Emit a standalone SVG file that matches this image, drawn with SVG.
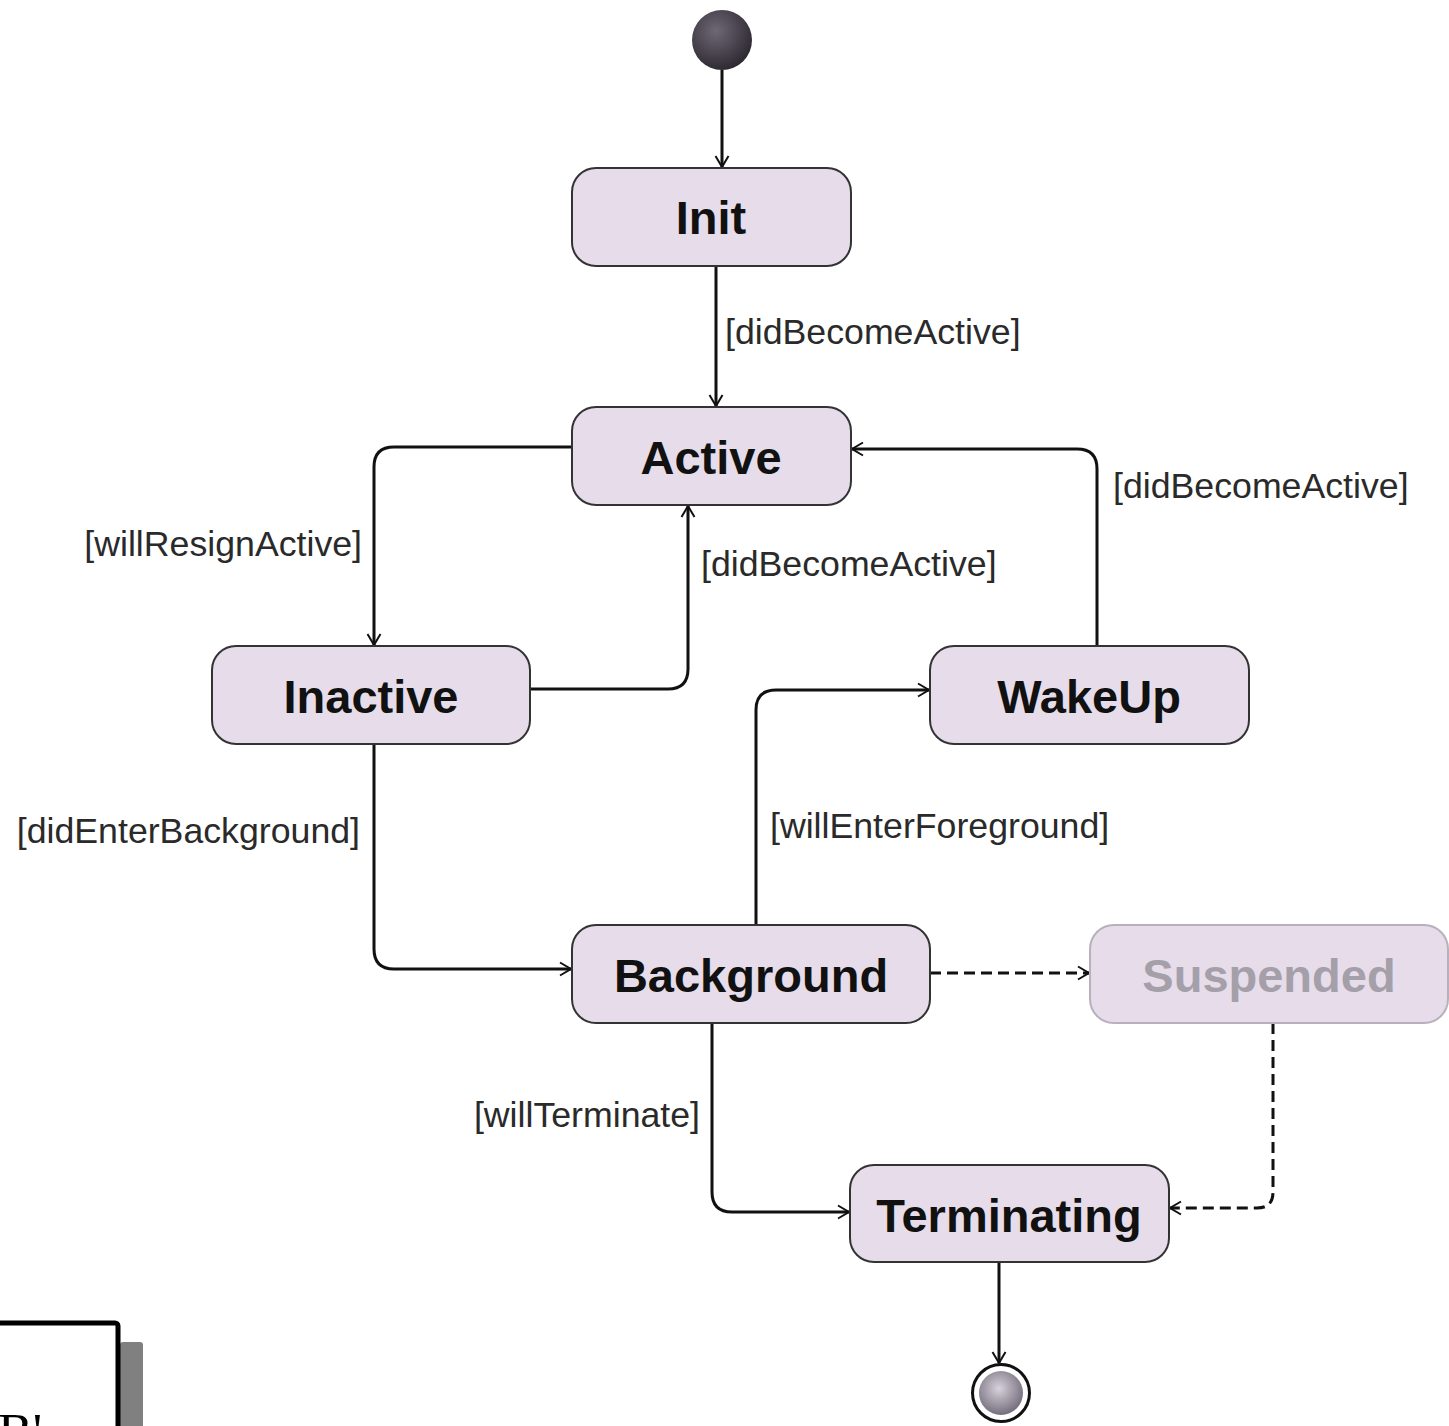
<svg xmlns="http://www.w3.org/2000/svg" width="1449" height="1426" viewBox="0 0 1449 1426">
<defs>
<radialGradient id="gInit" cx="0.4" cy="0.35" r="0.7">
<stop offset="0" stop-color="#6e6875"/>
<stop offset="1" stop-color="#2a262e"/>
</radialGradient>
<radialGradient id="gFinal" cx="0.45" cy="0.4" r="0.65">
<stop offset="0" stop-color="#d8d2dc"/>
<stop offset="1" stop-color="#6d6574"/>
</radialGradient>
<marker id="arr" markerWidth="16" markerHeight="16" refX="13" refY="8" orient="auto" markerUnits="userSpaceOnUse">
<path d="M2,1.5 L13,8 L2,14.5" fill="none" stroke="#111" stroke-width="2"/>
</marker>
</defs>
<style>
.node rect{fill:#e6dcea;stroke:#333;stroke-width:2}
.node text{font-family:"Liberation Sans",Arial,sans-serif;font-weight:bold;font-size:47px;fill:#111;text-anchor:middle}
#suspended rect{stroke:#b8b0bc}
#suspended text{fill:#a49fa9}
.edge{fill:none;stroke:#111;stroke-width:3;marker-end:url(#arr)}
.dash{stroke-dasharray:11 6}
.lbl{font-family:"Liberation Sans",Arial,sans-serif;font-size:35.7px;fill:#2a2a2a}
</style>
<rect width="1449" height="1426" fill="#fff"/>
<g id="connectors">
<path class="edge" d="M722,70 V167"/>
<path class="edge" d="M716,266 V406"/>
<path class="edge" d="M572,447 H394 Q374,447 374,467 V645"/>
<path class="edge" d="M530,689 H668 Q688,689 688,669 V506"/>
<path class="edge" d="M1097,646 V469 Q1097,449 1077,449 H852"/>
<path class="edge" d="M374,744 V949 Q374,969 394,969 H571"/>
<path class="edge" d="M756,925 V710 Q756,690 776,690 H929"/>
<path class="edge dash" d="M930,973 H1089"/>
<path class="edge dash" d="M1273,1023 V1192 Q1273,1208 1257,1208 H1170"/>
<path class="edge" d="M712,1023 V1192 Q712,1212 732,1212 H849"/>
<path class="edge" d="M999,1262 V1363"/>
<text class="lbl" x="725" y="344">[didBecomeActive]</text>
<text class="lbl" x="362" y="556" text-anchor="end">[willResignActive]</text>
<text class="lbl" x="701" y="576">[didBecomeActive]</text>
<text class="lbl" x="1113" y="498">[didBecomeActive]</text>
<text class="lbl" x="360" y="843" text-anchor="end">[didEnterBackground]</text>
<text class="lbl" x="770" y="838">[willEnterForeground]</text>
<text class="lbl" x="700" y="1127" text-anchor="end">[willTerminate]</text>
</g>
<g id="initial"><circle cx="722" cy="40" r="30" fill="url(#gInit)"/></g>
<g id="final">
<circle cx="1001" cy="1393" r="28.5" fill="#fff" stroke="#111" stroke-width="3"/>
<circle cx="1001" cy="1393" r="22" fill="url(#gFinal)"/>
</g>
<g id="init" class="node"><rect x="572" y="168" width="279" height="98" rx="24"/><text x="711" y="234">Init</text></g>
<g id="active" class="node"><rect x="572" y="407" width="279" height="98" rx="24"/><text x="711" y="474">Active</text></g>
<g id="inactive" class="node"><rect x="212" y="646" width="318" height="98" rx="24"/><text x="371" y="713">Inactive</text></g>
<g id="wakeup" class="node"><rect x="930" y="646" width="319" height="98" rx="24"/><text x="1089" y="713">WakeUp</text></g>
<g id="background" class="node"><rect x="572" y="925" width="358" height="98" rx="24"/><text x="751" y="992">Background</text></g>
<g id="suspended" class="node"><rect x="1090" y="925" width="358" height="98" rx="24"/><text x="1269" y="992">Suspended</text></g>
<g id="terminating" class="node"><rect x="850" y="1165" width="319" height="97" rx="24"/><text x="1009" y="1232">Terminating</text></g>
<g id="fragment">
<rect x="120" y="1342" width="23" height="100" rx="3" fill="#808080"/>
<rect x="-10" y="1323" width="128" height="130" rx="3" fill="#fff" stroke="#000" stroke-width="5"/>
<text x="-2" y="1450" font-family="'Liberation Serif',serif" font-size="52" fill="#000">B'</text>
</g>
</svg>
